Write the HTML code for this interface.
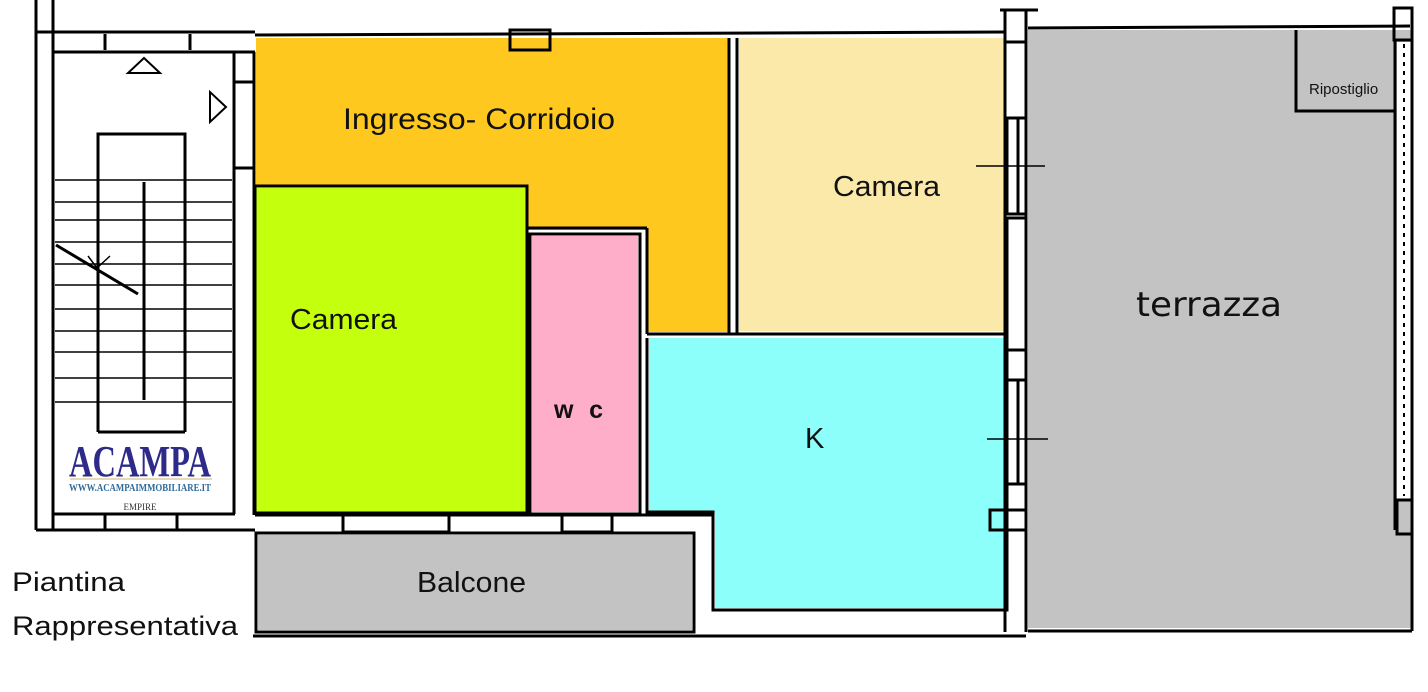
<!DOCTYPE html>
<html><head><meta charset="utf-8"><style>
body{margin:0;background:#fff;width:1428px;height:692px;overflow:hidden}
svg{display:block}
text{font-family:"Liberation Sans",sans-serif;fill:#111}
</style></head><body>
<svg width="1428" height="692" viewBox="0 0 1428 692" xmlns="http://www.w3.org/2000/svg">
<polygon points="256,38 729,38 729,332 647,332 647,230 528,230 528,185 256,185" fill="#FFC81E"/>
<rect x="256" y="188" width="270" height="324" fill="#C4FF0E"/>
<rect x="532" y="236" width="106" height="276" fill="#FFAEC9"/>
<rect x="739" y="38" width="266" height="293" fill="#FBE9A9"/>
<polygon points="649,338 1005,338 1005,608 715,608 715,514 649,514" fill="#8CFFFA"/>
<rect x="258" y="535" width="434" height="95" fill="#C3C3C3"/>
<rect x="1028" y="30" width="384" height="598" fill="#C3C3C3"/>
<rect x="1397" y="42" width="14" height="458" fill="#fff"/>
<g fill="none" stroke="#000" stroke-width="3">
<line x1="36" y1="32" x2="255" y2="32"/>
<line x1="53" y1="52" x2="255" y2="52"/>
<line x1="255" y1="35" x2="1005" y2="32"/>
<line x1="1028" y1="28" x2="1410" y2="26"/>
<line x1="36" y1="0" x2="36" y2="530"/>
<line x1="53" y1="0" x2="53" y2="32"/>
<line x1="53" y1="32" x2="53" y2="530"/>
<line x1="36" y1="530" x2="255" y2="530"/>
<line x1="53" y1="514" x2="235" y2="514"/>
<line x1="105" y1="34" x2="105" y2="50"/><line x1="190" y1="34" x2="190" y2="50"/>
<line x1="234" y1="52" x2="234" y2="514"/>
<line x1="254" y1="52" x2="254" y2="515"/>
<line x1="234" y1="82" x2="254" y2="82"/><line x1="234" y1="168" x2="254" y2="168"/>
<rect x="255" y="186" width="272" height="327"/>
<rect x="530" y="234" width="110" height="280"/>
<line x1="528" y1="228" x2="647" y2="228"/>
<line x1="647" y1="228" x2="647" y2="334"/>
<line x1="729" y1="38" x2="729" y2="334"/>
<line x1="737" y1="38" x2="737" y2="334"/>
<line x1="647" y1="334" x2="1005" y2="334"/>
<polyline points="647,338 647,512 713,512 713,610 1007,610 1007,340"/>
<line x1="1005" y1="30" x2="1005" y2="632"/>
<line x1="1026" y1="30" x2="1026" y2="632"/>
<rect x="1005" y="10" width="21" height="32"/>
<line x1="1000" y1="10" x2="1038" y2="10"/>
<rect x="1007" y="118" width="19" height="96"/><line x1="1018" y1="118" x2="1018" y2="214"/>
<rect x="1007" y="218" width="19" height="132"/>
<rect x="1007" y="380" width="19" height="104"/><line x1="1018" y1="380" x2="1018" y2="484"/>
<rect x="990" y="510" width="36" height="20"/>
<rect x="256" y="533" width="438" height="99"/>
<line x1="255" y1="515" x2="713" y2="515"/>
<line x1="253" y1="636" x2="1026" y2="636"/>
<line x1="694" y1="532" x2="694" y2="632"/>
<rect x="343" y="514" width="106" height="18"/>
<rect x="562" y="514" width="50" height="18"/>
<rect x="105" y="514" width="72" height="16"/>
<rect x="510" y="30" width="40" height="20"/>
<line x1="1028" y1="631" x2="1412" y2="631"/>
<line x1="1412" y1="14" x2="1412" y2="631"/>
<line x1="1395" y1="40" x2="1395" y2="530"/>
<rect x="1394" y="8" width="18" height="32"/>
<rect x="1397" y="500" width="15" height="34"/>
<polyline points="1296,30 1296,111 1396,111"/>
<polyline points="98,180 98,134 185,134 185,180"/>
<line x1="98" y1="180" x2="98" y2="432"/><line x1="185" y1="180" x2="185" y2="432"/>
<line x1="98" y1="432" x2="185" y2="432"/>
<line x1="144" y1="182" x2="144" y2="400"/>
</g>
<line x1="1404" y1="44" x2="1404" y2="496" stroke="#000" stroke-width="2" stroke-dasharray="4,5"/>
<g stroke="#000" stroke-width="1.5">
<line x1="55" y1="180" x2="232" y2="180"/><line x1="55" y1="202" x2="232" y2="202"/>
<line x1="55" y1="220" x2="232" y2="220"/><line x1="55" y1="242" x2="232" y2="242"/>
<line x1="55" y1="264" x2="232" y2="264"/><line x1="55" y1="285" x2="232" y2="285"/>
<line x1="55" y1="309" x2="232" y2="309"/><line x1="55" y1="331" x2="232" y2="331"/>
<line x1="55" y1="352" x2="232" y2="352"/><line x1="55" y1="378" x2="232" y2="378"/>
<line x1="55" y1="402" x2="232" y2="402"/>
<line x1="56" y1="245" x2="138" y2="294" stroke-width="3"/>
<line x1="88" y1="256" x2="97" y2="268"/><line x1="110" y1="256" x2="97" y2="268"/>
<line x1="976" y1="166" x2="1045" y2="166"/>
<line x1="987" y1="439" x2="1048" y2="439"/>
</g>
<polygon points="144,58 128,73 160,73" fill="none" stroke="#000" stroke-width="2"/>
<polygon points="210,92 210,122 226,107" fill="none" stroke="#000" stroke-width="2"/>
<text x="140" y="476" text-anchor="middle" style="font-family:'Liberation Serif',serif;font-size:44px;font-weight:bold;fill:#2e2a8a" textLength="142" lengthAdjust="spacingAndGlyphs">ACAMPA</text>
<line x1="70" y1="479" x2="212" y2="479" stroke="#c9b46a" stroke-width="1"/>
<text x="140" y="491" text-anchor="middle" style="font-family:'Liberation Serif',serif;font-size:10px;fill:#2e6a9a;font-weight:bold" textLength="142" lengthAdjust="spacingAndGlyphs">WWW.ACAMPAIMMOBILIARE.IT</text>
<text x="140" y="510" text-anchor="middle" style="font-family:'Liberation Serif',serif;font-size:9px;fill:#333">EMPIRE</text>
<text x="343" y="129" style="font-size:30px" textLength="272" lengthAdjust="spacingAndGlyphs">Ingresso- Corridoio</text>
<text x="833" y="196" style="font-size:29px" textLength="107" lengthAdjust="spacingAndGlyphs">Camera</text>
<text x="290" y="329" style="font-size:29px" textLength="107" lengthAdjust="spacingAndGlyphs">Camera</text>
<text x="554" y="418" style="font-size:25px;font-weight:bold" textLength="49" lengthAdjust="spacing">wc</text>
<text x="805" y="448" style="font-size:29px">K</text>
<text x="1136" y="316" style="font-family:'DejaVu Sans',sans-serif;font-size:34px" textLength="146" lengthAdjust="spacingAndGlyphs">terrazza</text>
<text x="1309" y="94" style="font-size:15px">Ripostiglio</text>
<text x="417" y="592" style="font-size:29px" textLength="109" lengthAdjust="spacingAndGlyphs">Balcone</text>
<text x="12" y="591" style="font-size:27px" textLength="113" lengthAdjust="spacingAndGlyphs">Piantina</text>
<text x="12" y="635" style="font-size:27px" textLength="226" lengthAdjust="spacingAndGlyphs">Rappresentativa</text>
</svg>
</body></html>
